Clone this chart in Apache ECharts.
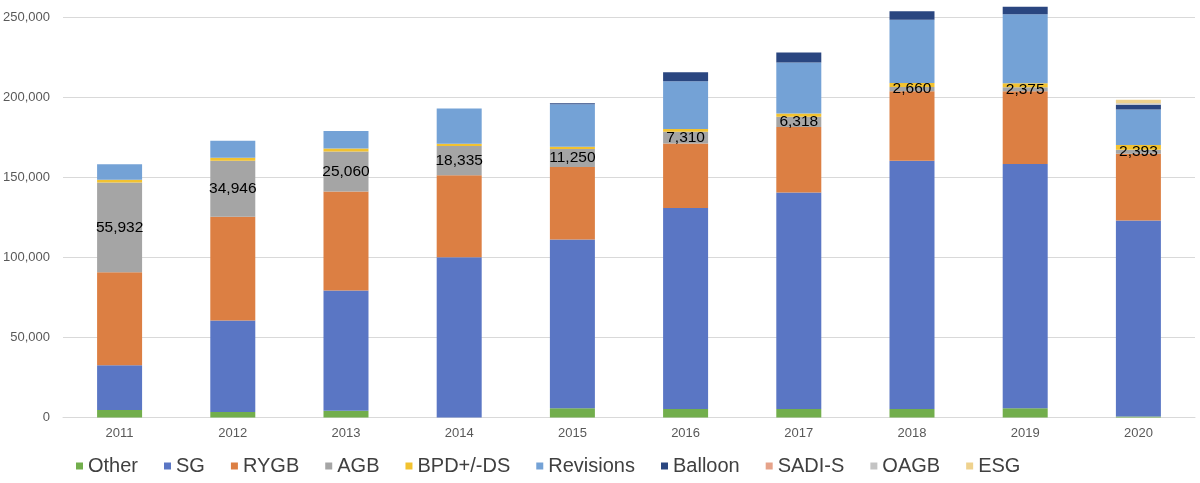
<!DOCTYPE html>
<html>
<head>
<meta charset="utf-8">
<script src="https://cdn.jsdelivr.net/npm/echarts@6/dist/echarts.min.js"></script>
<style>
html,body{margin:0;padding:0;background:#fff;}
#chart{width:1200px;height:483px;}
</style>
</head>
<body>
<div id="chart"></div>
<script>
var categories = ['2011','2012','2013','2014','2015','2016','2017','2018','2019','2020'];
var other     = [4700, 3500, 4250, 0, 5800, 5300, 5300, 5300, 5800, 600];
var sg        = [27900, 57000, 75000, 100000, 105300, 125400, 135200, 155000, 152500, 122400];
var rygb      = [58100, 64800, 61800, 51200, 45300, 40400, 40900, 43300, 45400, 41700];
var agb       = [55932, 34946, 25060, 18335, 11250, 7310, 6318, 2660, 2375, 2393];
var bpd       = [1800, 1900, 1800, 1300, 1400, 1700, 2000, 2500, 2500, 3000];
var revisions = [9600, 10600, 10900, 22000, 26500, 29800, 31900, 39600, 43100, 22100];
var balloon   = [0, 0, 0, 0, 600, 5600, 6200, 5200, 4800, 3100];
var sadis     = [0, 0, 0, 0, 0, 0, 0, 0, 0, 0];
var oagb      = [0, 0, 0, 0, 0, 0, 0, 0, 0, 800];
var esg       = [0, 0, 0, 0, 0, 0, 0, 0, 0, 2300];
var yTicks    = [0, 50000, 100000, 150000, 200000, 250000];

var seriesDefs = [
  {name:'Other', data:other, color:'#72AE4C'},
  {name:'SG', data:sg, color:'#5A76C4'},
  {name:'RYGB', data:rygb, color:'#DC7F43'},
  {name:'AGB', data:agb, color:'#A5A5A5', label:true},
  {name:'BPD+/-DS', data:bpd, color:'#F2C230'},
  {name:'Revisions', data:revisions, color:'#74A2D6'},
  {name:'Balloon', data:balloon, color:'#2A4680'},
  {name:'SADI-S', data:sadis, color:'#E6A38A'},
  {name:'OAGB', data:oagb, color:'#C4C4C4'},
  {name:'ESG', data:esg, color:'#EFD28E'}
];

function fmt(v){ return String(v).replace(/\B(?=(\d{3})+(?!\d))/g, ','); }

var chart = echarts.init(document.getElementById('chart'), null, {renderer:'canvas'});
var option = {
  animation:false,
  backgroundColor:'#ffffff',
  textStyle:{fontFamily:'Liberation Sans, Arial, sans-serif'},
  grid:{left:62, right:5, top:17, bottom:65.5, containLabel:false},
  legend:{
    left:71, top:451,
    itemWidth:7, itemHeight:7, itemGap:26,
    icon:'rect',
    textStyle:{fontSize:20, color:'#404040', fontFamily:'Liberation Sans, Arial, sans-serif'},
    data:seriesDefs.map(function(s){return s.name;})
  },
  xAxis:{
    type:'category', data:categories,
    axisLine:{lineStyle:{color:'#D9D9D9', width:1}},
    axisTick:{show:false},
    axisLabel:{color:'#595959', fontSize:13, margin:9}
  },
  yAxis:{
    type:'value', min:yTicks[0], max:yTicks[yTicks.length-1], interval:yTicks[1]-yTicks[0],
    axisLine:{show:false}, axisTick:{show:false},
    splitLine:{lineStyle:{color:'#D9D9D9', width:1}},
    axisLabel:{color:'#595959', fontSize:13, margin:13, formatter:function(v){return fmt(v);}}
  },
  series:seriesDefs.map(function(s){
    return {
      name:s.name, type:'bar', stack:'total', data:s.data, barWidth:45, clip:false,
      itemStyle:{color:s.color},
      label: s.label ? {show:true, position:'inside', color:'#000', fontSize:15.5,
        fontFamily:'Liberation Sans, Arial, sans-serif',
        formatter:function(p){return fmt(p.value);}} : {show:false},
      emphasis:{disabled:true}
    };
  })
};
chart.setOption(option);
</script>
</body>
</html>
